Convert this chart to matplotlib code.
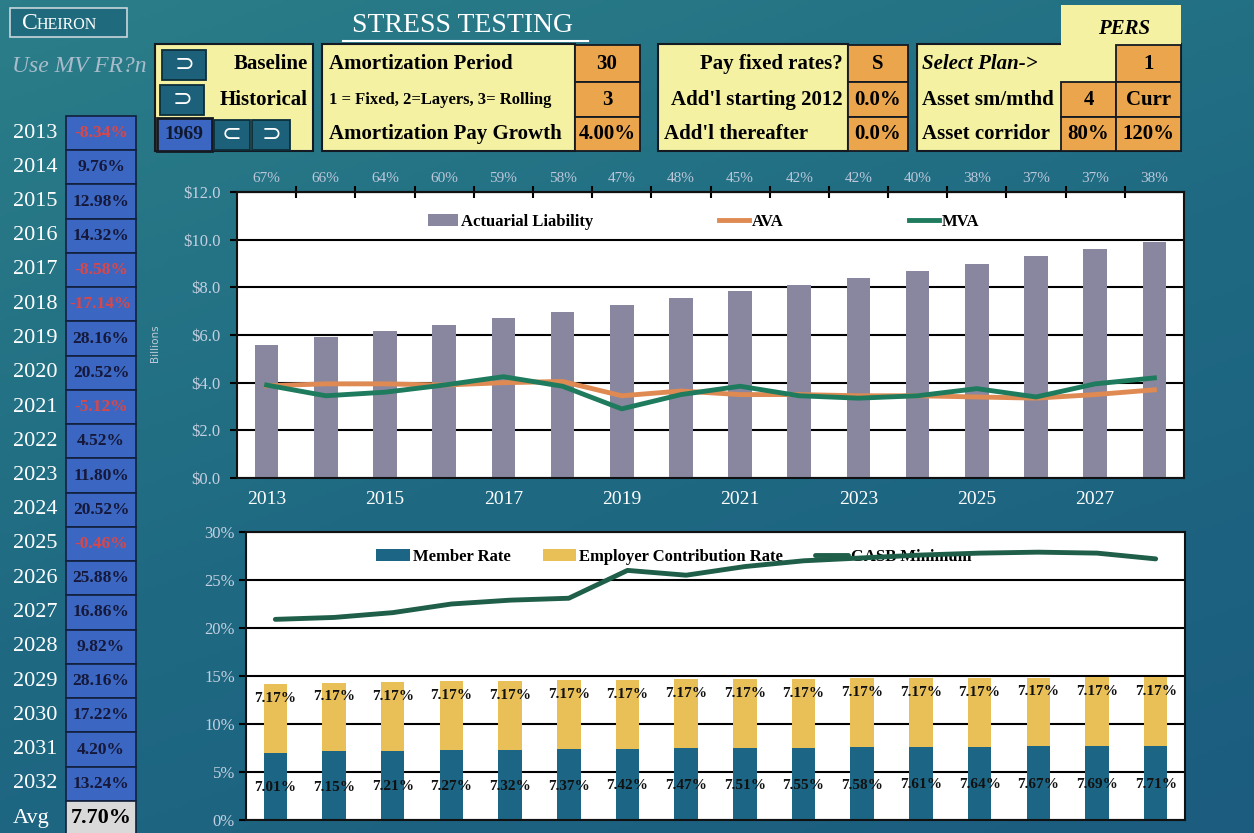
import matplotlib.pyplot as plt
import numpy as np
from matplotlib.colors import LinearSegmentedColormap
from matplotlib.patches import Rectangle

W, H = 1254, 833

# values
years = list(range(2013, 2029))
funded_ratio = [67, 66, 64, 60, 59, 58, 47, 48, 45, 42, 42, 40, 38, 37, 37, 38]
liability = [5.6, 5.9, 6.15, 6.4, 6.7, 6.95, 7.25, 7.55, 7.85, 8.1, 8.4, 8.7, 9.0, 9.3, 9.6, 9.9]
ava = [3.87, 3.95, 3.95, 3.9, 4.0, 4.05, 3.45, 3.65, 3.5, 3.5, 3.45, 3.45, 3.4, 3.35, 3.5, 3.7]
mva = [3.9, 3.45, 3.6, 3.9, 4.25, 3.85, 2.9, 3.5, 3.85, 3.45, 3.35, 3.45, 3.75, 3.4, 3.95, 4.2]

member_rate = [7.01, 7.15, 7.21, 7.27, 7.32, 7.37, 7.42, 7.47, 7.51, 7.55, 7.58, 7.61, 7.64, 7.67, 7.69, 7.71]
employer_rate = [7.17, 7.17, 7.17, 7.17, 7.17, 7.17, 7.17, 7.17, 7.17, 7.17, 7.17, 7.17, 7.17, 7.17, 7.17, 7.17]
gasb_minimum = [20.9, 21.1, 21.6, 22.5, 22.9, 23.1, 26.0, 25.5, 26.4, 27.0, 27.3, 27.6, 27.8, 27.9, 27.8, 27.2]

return_years = list(range(2013, 2033))
returns = [-8.34, 9.76, 12.98, 14.32, -8.58, -17.14, 28.16, 20.52, -5.12, 4.52,
           11.80, 20.52, -0.46, 25.88, 16.86, 9.82, 28.16, 17.22, 4.20, 13.24]
avg_return = 7.70

SERIF = "Liberation Serif"
YELLOW = "#f4f1a3"
ORANGE = "#eba64d"
BUTTON = "#1d6079"
BLUE_BOX = "#3b67c2"
EDGE = "#151a22"
PANEL_FS = 15

plt.rcParams["font.family"] = [SERIF, "DejaVu Sans"]


def px_axes(fig, x0, y0, x1, y1):
    return fig.add_axes([x0 / W, 1 - y1 / H, (x1 - x0) / W, (y1 - y0) / H])


def box(ax, x0, y0, x1, y1, fc, ec=EDGE, lw=1.3, z=1):
    ax.add_patch(Rectangle((x0, y0), x1 - x0, y1 - y0, facecolor=fc,
                           edgecolor=ec if ec else "none", linewidth=lw, zorder=z))


def label(ax, x, y, s, size=PANEL_FS, ha="left", color="black", weight="bold", style="normal",
          va="center", **kw):
    ax.text(x, y, s, fontsize=size, ha=ha, va=va, color=color,
            fontweight=weight, fontstyle=style, zorder=5, **kw)


fig = plt.figure(figsize=(W / 100, H / 100), dpi=100)

# ---- dashboard layer (pixel coordinates) ----
ov = fig.add_axes([0, 0, 1, 1])
ov.set_xlim(0, W)
ov.set_ylim(H, 0)
ov.axis("off")

bg_cmap = LinearSegmentedColormap.from_list("bg", ["#2b7e89", "#1f6a82", "#1b5c7f"])
gx, gy = np.meshgrid(np.linspace(0, 1, 200), np.linspace(0, 1, 200))
ov.imshow(0.35 * gx + 0.65 * gy, cmap=bg_cmap, extent=(0, W, H, 0), aspect="auto", zorder=0)

# header
box(ov, 10, 8, 127, 37, "#1f6b7d", ec="#c9d5dc", lw=1.2)
label(ov, 22, 29, "C", size=17, color="white", weight="normal", va="baseline")
label(ov, 37, 29, "HEIRON", size=11.5, color="white", weight="normal", va="baseline")
label(ov, 463, 25, "STRESS TESTING", size=20, ha="center", color="white", weight="normal")
ov.plot([343, 588], [41, 41], color="white", lw=1.5, zorder=5)
label(ov, 12, 66, "Use MV FR?n", size=17, color="#a9bccb", weight="normal", style="italic")

# yellow input panels
box(ov, 1061, 5, 1181, 46, YELLOW, ec=None)
label(ov, 1098, 29, "PERS", size=15, style="italic")
for x0, x1 in [(155, 313), (322, 575), (658, 848), (917, 1181)]:
    box(ov, x0, 44, x1, 151, YELLOW, lw=1.5)
box(ov, 1061, 40, 1181, 50, YELLOW, ec=None, z=2)

rows = [(45, 82), (82, 117), (117, 151)]
row_y = [64, 100, 134]

# panel 1: scenario buttons
box(ov, 162, 50, 206, 80, BUTTON, ec="#0d2f3a")
label(ov, 184, 65, "\u2283", size=17, ha="center", color="white", weight="normal")
box(ov, 160, 85, 204, 115, BUTTON, ec="#0d2f3a")
label(ov, 182, 100, "\u2283", size=17, ha="center", color="white", weight="normal")
label(ov, 308, row_y[0], "Baseline", ha="right")
label(ov, 308, row_y[1], "Historical", ha="right")
box(ov, 157, 118, 212, 151, BLUE_BOX, lw=2, z=3)
label(ov, 184, 134, "1969", size=14, ha="center", color="#101830")
box(ov, 214, 120, 250, 150, BUTTON, ec="#0d2f3a", z=3)
label(ov, 232, 135, "\u2282", size=17, ha="center", color="white", weight="normal")
box(ov, 252, 120, 290, 150, BUTTON, ec="#0d2f3a", z=3)
label(ov, 271, 135, "\u2283", size=17, ha="center", color="white", weight="normal")

# panel 2: amortization
label(ov, 329, row_y[0], "Amortization Period")
label(ov, 329, row_y[1], "1 = Fixed, 2=Layers, 3= Rolling", size=12)
label(ov, 329, row_y[2], "Amortization Pay Growth")
for (y0, y1), yc, s in zip(rows, row_y, ["30", "3", "4.00%"]):
    box(ov, 575, y0, 640, y1, ORANGE, z=2)
    label(ov, 607, yc, s, ha="center")

# panel 3: contributions
label(ov, 843, row_y[0], "Pay fixed rates?", ha="right")
label(ov, 843, row_y[1], "Add'l starting 2012", ha="right")
label(ov, 664, row_y[2], "Add'l thereafter")
for (y0, y1), yc, s in zip(rows, row_y, ["S", "0.0%", "0.0%"]):
    box(ov, 848, y0, 908, y1, ORANGE, z=2)
    label(ov, 878, yc, s, ha="center")

# panel 4: plan / assets
label(ov, 922, row_y[0], "Select Plan->", style="italic")
label(ov, 922, row_y[1], "Asset sm/mthd")
label(ov, 922, row_y[2], "Asset corridor")
for x0, x1, (y0, y1), yc, s in [(1116, 1181, rows[0], row_y[0], "1"),
                                (1061, 1116, rows[1], row_y[1], "4"),
                                (1116, 1181, rows[1], row_y[1], "Curr"),
                                (1061, 1116, rows[2], row_y[2], "80%"),
                                (1116, 1181, rows[2], row_y[2], "120%")]:
    box(ov, x0, y0, x1, y1, ORANGE, z=2)
    label(ov, (x0 + x1) / 2, yc, s, ha="center")

# left column: annual returns
step = 34.25
for i, (yr, r) in enumerate(zip(return_years, returns)):
    yc = 133 + i * step
    box(ov, 66, yc - step / 2, 136, yc + step / 2, BLUE_BOX, ec="#11203c", lw=1.2)
    label(ov, 13, yc, str(yr), size=16, color="white", weight="normal")
    label(ov, 101, yc, f"{r:.2f}%", size=12.5, ha="center",
          color="#d8474a" if r < 0 else "#15183a")
yc = 133 + len(returns) * step
box(ov, 66, yc - step / 2, 136, yc + step / 2, "#d9d9d9", ec="#11203c", lw=1.2)
label(ov, 13, yc, "Avg", size=16, color="white", weight="normal")
label(ov, 101, yc, f"{avg_return:.2f}%", size=16, ha="center")

# ---- top chart: liability vs assets ----
x = np.arange(len(years))
ax1 = px_axes(fig, 237, 192, 1184, 478)
ax1.set_facecolor("white")
ax1.bar(x, liability, width=0.4, color="#8987a0", zorder=2, label="Actuarial Liability")
ax1.plot(x, ava, color="#df8a52", lw=3.5, zorder=3, label="AVA", solid_joinstyle="round")
ax1.plot(x, mva, color="#1f7b5d", lw=3.5, zorder=4, label="MVA", solid_joinstyle="round")
ax1.set_xlim(-0.5, len(years) - 0.5)
ax1.set_ylim(0, 12)
yt = np.arange(0, 13, 2)
ax1.set_yticks(yt, [f"${v:.1f}" for v in yt])
ax1.grid(axis="y", color="black", lw=1.5)
ax1.set_axisbelow(True)
ax1.set_xticks(x[::2], [str(y) for y in years[::2]])
ax1.tick_params(axis="x", length=0, colors="white", labelsize=14, pad=9)
ax1.tick_params(axis="y", length=5, width=1.5, color="black", labelcolor="#c4cfe0",
                labelsize=12, pad=7)
for sp in ax1.spines.values():
    sp.set_color("#111111")
    sp.set_linewidth(1.5)
ax1.set_ylabel("Billions", fontsize=7.5, color="#c0cad8", family="DejaVu Sans")
ax1.yaxis.set_label_coords(-77 / 947, 0.47)

sec = ax1.secondary_xaxis("top")
sec.set_xticks(x, [f"{v}%" for v in funded_ratio])
sec.set_xticks(np.arange(0.5, len(years) - 1, 1), minor=True)
sec.tick_params(axis="x", which="major", length=0, labelcolor="#bcc7da", labelsize=11, pad=5)
sec.tick_params(axis="x", which="minor", length=9, width=1.5, direction="inout", color="black")
sec.spines["top"].set_color("#111111")
sec.spines["top"].set_linewidth(1.5)

h1, l1 = ax1.get_legend_handles_labels()
order1 = [l1.index(n) for n in ["Actuarial Liability", "AVA", "MVA"]]
ax1.legend([h1[i] for i in order1], [l1[i] for i in order1],
           loc="center", bbox_to_anchor=(0.493, 0.895), ncol=3, frameon=False,
           columnspacing=7.5, handlelength=1.8, handletextpad=0.2,
           prop=dict(family=SERIF, weight="bold", size=12))

# ---- bottom chart: contribution rates ----
ax2 = px_axes(fig, 246, 532, 1185, 820)
ax2.set_facecolor("white")
ax2.bar(x, member_rate, width=0.4, color="#1d6584", zorder=2, label="Member Rate")
ax2.bar(x, employer_rate, width=0.4, bottom=member_rate, color="#e9bf58", zorder=2,
        label="Employer Contribution Rate")
ax2.plot(x, gasb_minimum, color="#1f5e48", lw=3.5, zorder=6, label="GASB Minimum",
         solid_joinstyle="round", solid_capstyle="round")
for xi, m, e in zip(x, member_rate, employer_rate):
    ax2.text(xi, m / 2 - 0.15, f"{m:.2f}%", ha="center", va="center", fontsize=11,
             fontweight="bold", color="#111111", zorder=5)
    ax2.text(xi, m + e - 1.5, f"{e:.2f}%", ha="center", va="center", fontsize=11,
             fontweight="bold", color="#111111", zorder=5)
ax2.set_xlim(-0.5, len(years) - 0.5)
ax2.set_ylim(0, 30)
yt2 = np.arange(0, 31, 5)
ax2.set_yticks(yt2, [f"{v}%" for v in yt2])
ax2.set_xticks([])
ax2.grid(axis="y", color="black", lw=1.5)
ax2.set_axisbelow(True)
ax2.tick_params(axis="y", length=5, width=1.5, color="black", labelcolor="#c4cfe0",
                labelsize=12, pad=3)
for sp in ax2.spines.values():
    sp.set_color("#111111")
    sp.set_linewidth(1.5)
h2, l2 = ax2.get_legend_handles_labels()
order2 = [l2.index(n) for n in ["Member Rate", "Employer Contribution Rate", "GASB Minimum"]]
leg2 = ax2.legend([h2[i] for i in order2], [l2[i] for i in order2],
                  loc="center", bbox_to_anchor=(0.456, 0.913), ncol=3, frameon=False,
                  columnspacing=1.9, handlelength=2.0, handletextpad=0.2,
                  prop=dict(family=SERIF, weight="bold", size=12))
leg2.set_zorder(4)

fig.savefig("out.png", dpi=100)
